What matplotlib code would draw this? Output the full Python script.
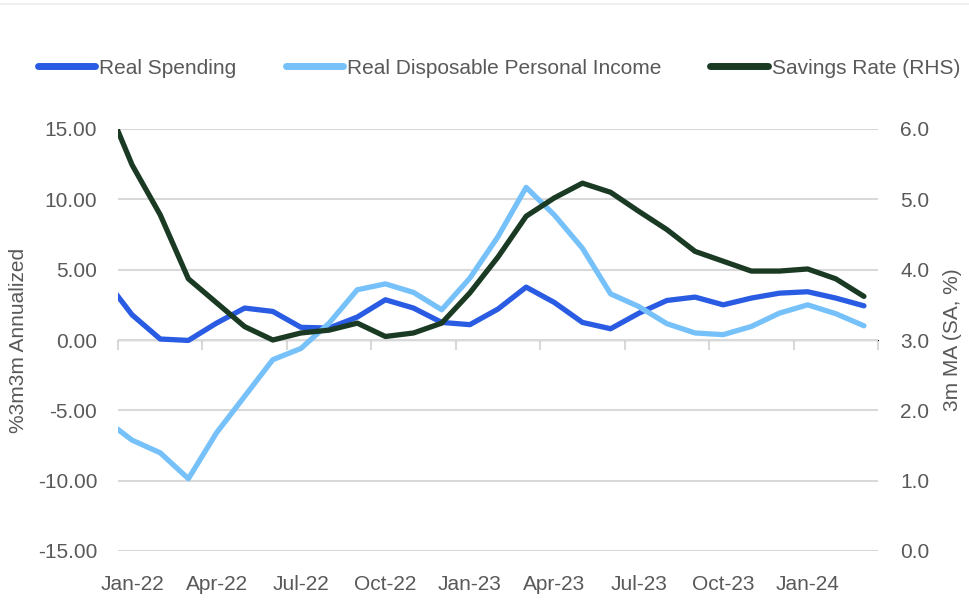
"""Real spending vs real disposable income growth, with the savings rate on a second axis."""

import numpy as np
import matplotlib

matplotlib.use("Agg")
import matplotlib.pyplot as plt
from matplotlib.lines import Line2D
from matplotlib.ticker import FormatStrFormatter

months = [
    "Dec-21",
    "Jan-22", "Feb-22", "Mar-22", "Apr-22", "May-22", "Jun-22",
    "Jul-22", "Aug-22", "Sep-22", "Oct-22", "Nov-22", "Dec-22",
    "Jan-23", "Feb-23", "Mar-23", "Apr-23", "May-23", "Jun-23",
    "Jul-23", "Aug-23", "Sep-23", "Oct-23", "Nov-23", "Dec-23",
    "Jan-24", "Feb-24", "Mar-24",
]

# %3m3m annualized
real_spending = [
    4.4,
    1.79, 0.07, -0.03, 1.20, 2.27, 2.03,
    0.90, 0.85, 1.63, 2.86, 2.27, 1.25,
    1.09, 2.20, 3.76, 2.67, 1.25, 0.80,
    1.90, 2.81, 3.05, 2.50, 2.98, 3.33,
    3.43, 2.98, 2.43,
]
real_income = [
    -5.6,
    -7.12, -8.02, -9.86, -6.60, -4.00, -1.40,
    -0.60, 1.20, 3.57, 3.99, 3.38, 2.15,
    4.40, 7.35, 10.85, 8.89, 6.52, 3.28,
    2.38, 1.16, 0.50, 0.38, 0.96, 1.91,
    2.50, 1.87, 1.01,
]
# 3m MA, SA, %
savings_rate = [
    6.45,
    5.49, 4.78, 3.87, 3.53, 3.19, 3.00,
    3.10, 3.14, 3.24, 3.05, 3.10, 3.24,
    3.67, 4.18, 4.76, 5.02, 5.23, 5.10,
    4.83, 4.57, 4.26, 4.12, 3.98, 3.98,
    4.01, 3.87, 3.62,
]

left_ticks = [-15, -10, -5, 0, 5, 10, 15]
right_ticks = [0, 1, 2, 3, 4, 5, 6]

C_SPEND = "#2a5ce3"
C_INCOME = "#76c1fa"
C_SAVE = "#1a3a23"
C_TEXT = "#595959"
C_GRID = "#d9d9d9"

plt.rcParams["font.family"] = ["Liberation Sans", "DejaVu Sans"]
plt.rcParams["font.size"] = 15

# months sit in the middle of their slot; axis runs from start of Jan-22 to end of Mar-24
x = np.arange(len(months)) - 0.5

fig = plt.figure(figsize=(9.7, 6.0), dpi=100)
ax = fig.add_axes([118 / 970, 1 - 551 / 600, 760 / 970, 422 / 600])
ax2 = ax.twinx()

line_kw = dict(lw=3.8, solid_joinstyle="round", solid_capstyle="round")
h1, = ax.plot(x, real_spending, color=C_SPEND, label="Real Spending", **line_kw)
h2, = ax.plot(x, real_income, color=C_INCOME, label="Real Disposable Personal Income", **line_kw)
h3, = ax2.plot(x, savings_rate, color=C_SAVE, label="Savings Rate (RHS)", **line_kw)

ax.set_xlim(0, 27)
ax.set_ylim(-15, 15)
ax2.set_ylim(0, 6)

ax.set_yticks(left_ticks)
ax2.set_yticks(right_ticks)
ax.yaxis.set_major_formatter(FormatStrFormatter("%.2f"))
ax2.yaxis.set_major_formatter(FormatStrFormatter("%.1f"))
ax.grid(axis="y", color=C_GRID, lw=1.5)
ax.set_axisbelow(True)

# category labels in the middle of every third month, no tick marks
ax.set_xticks(x[1::3])
ax.set_xticklabels(months[1::3])
ax.tick_params(axis="x", length=0, pad=17, colors=C_TEXT)
ax.tick_params(axis="y", length=0, pad=15, colors=C_TEXT)
ax2.tick_params(axis="y", length=0, pad=16, colors=C_TEXT)

for a in (ax, ax2):
    for s in a.spines.values():
        s.set_visible(False)

# horizontal axis line crosses at zero with small inward ticks on quarter boundaries
zero_axis = ax.secondary_xaxis(0.5)
zero_axis.set_xticks(np.arange(0, 28, 3))
zero_axis.set_xticklabels([])
zero_axis.tick_params(direction="in", length=7, width=1.5, color=C_GRID)
zero_axis.spines["bottom"].set_color(C_GRID)
zero_axis.spines["bottom"].set_linewidth(1.5)

ax.set_ylabel("%3m3m Annualized", color=C_TEXT)
ax.yaxis.set_label_coords(-0.118, 0.5)
ax2.set_ylabel("3m MA (SA, %)", color=C_TEXT)
ax2.yaxis.set_label_coords(1.086, 0.5)

leg = fig.legend(
    handles=[h1, h2, h3],
    loc="center left",
    bbox_to_anchor=(38 / 970, 1 - 68 / 600),
    ncol=3,
    frameon=False,
    borderpad=0,
    borderaxespad=0,
    handlelength=2.75,
    handletextpad=0.2,
    columnspacing=2.35,
    labelcolor=C_TEXT,
)
for h in leg.legend_handles:
    h.set_linewidth(5)

fig.add_artist(Line2D([0, 1], [0.994, 0.994], color="#f0f0f0", lw=1.5))

fig.savefig("out.png", dpi=100)
